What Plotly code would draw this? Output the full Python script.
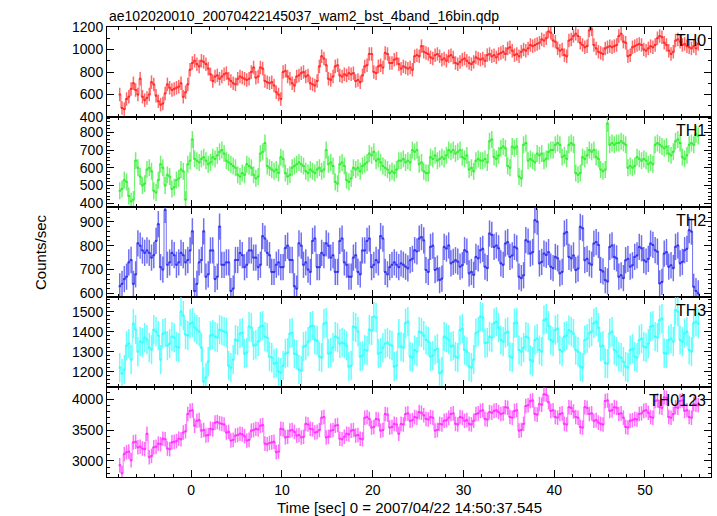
import numpy as np
import plotly.graph_objects as go

# ---------------- data (0.25 s bins, first bin centred at -7.875 s) ----------------
t_start = -7.875
bin_width = 0.25

th0 = [
    600, 480, 470, 560, 580, 650, 700, 640,
    600, 740, 580, 550, 570, 600, 710, 690,
    590, 540, 510, 520, 610, 690, 660, 640,
    650, 660, 670, 700, 580, 620, 690, 820,
    880, 900, 870, 850, 900, 890, 870, 830,
    780, 720, 760, 770, 740, 760, 780, 790,
    740, 720, 700, 690, 740, 760, 750, 740,
    730, 740, 800, 840, 750, 760, 840, 830,
    720, 710, 700, 710, 680, 620, 600, 560,
    800, 810, 760, 740, 700, 680, 760, 770,
    790, 800, 760, 770, 700, 690, 680, 720,
    850, 940, 920, 860, 740, 730, 760, 850,
    860, 770, 760, 780, 770, 790, 780, 790,
    720, 730, 710, 770, 850, 860, 960, 960,
    800, 790, 850, 860, 840, 970, 960, 880,
    880, 910, 920, 870, 830, 850, 840, 830,
    840, 820, 940, 950, 940, 1030, 980, 970,
    960, 930, 920, 950, 960, 940, 910, 920,
    900, 940, 950, 930, 880, 870, 890, 910,
    920, 900, 880, 870, 890, 930, 920, 910,
    920, 900, 950, 960, 940, 950, 930, 960,
    970, 980, 960, 1010, 1020, 990, 950, 960,
    940, 980, 1000, 990, 1010, 1040, 1030, 1040,
    1050, 1060, 1090, 1080, 1100, 1160, 1150, 1080,
    1070, 1010, 990, 1000, 950, 940, 1080, 1090,
    1120, 1140, 1120, 1060, 1040, 1020, 1030, 1170,
    1180, 1040, 1010, 980, 970, 960, 1010, 1020,
    1030, 1020, 1030, 1040, 1120, 1140, 1070, 1060,
    940, 950, 1020, 1030, 1040, 1050, 1040, 1000,
    990, 1010, 1030, 1020, 1040, 1100, 1120, 1110,
    1060, 1040, 990, 960, 980, 1080, 1090, 1070,
    1040, 1050, 1030, 1020, 1010, 1030, 1010, 1050,
]

th1 = [
    470, 480, 530, 520, 440, 410, 420, 640,
    600, 550, 500, 510, 590, 600, 580, 470,
    460, 530, 620, 600, 500, 560, 550, 480,
    490, 530, 540, 590, 580, 420, 620, 640,
    760, 650, 640, 630, 650, 660, 640, 620,
    630, 660, 650, 670, 690, 700, 680, 640,
    630, 620, 610, 600, 560, 550, 570, 560,
    620, 610, 600, 560, 540, 550, 680, 690,
    740, 610, 600, 590, 580, 590, 570, 660,
    650, 570, 550, 560, 600, 610, 620, 630,
    620, 610, 580, 570, 590, 580, 570, 590,
    600, 580, 590, 700, 620, 630, 610, 520,
    510, 620, 630, 610, 530, 520, 540, 600,
    590, 600, 580, 610, 620, 630, 680, 670,
    690, 640, 650, 630, 610, 600, 590, 570,
    580, 570, 590, 640, 640, 650, 630, 640,
    630, 700, 690, 700, 620, 630, 580, 570,
    570, 660, 650, 670, 640, 650, 660, 650,
    670, 700, 690, 700, 680, 690, 700, 660,
    650, 670, 590, 600, 580, 640, 650, 640,
    640, 650, 630, 750, 760, 660, 650, 670,
    710, 720, 710, 610, 600, 720, 710, 720,
    550, 540, 730, 740, 640, 650, 640, 630,
    680, 670, 680, 640, 650, 690, 700, 700,
    730, 740, 730, 660, 670, 650, 730, 740,
    730, 570, 560, 570, 660, 650, 670, 700,
    690, 700, 660, 650, 590, 580, 590, 850,
    730, 740, 730, 740, 740, 750, 740, 730,
    600, 610, 600, 610, 660, 650, 640, 650,
    640, 620, 630, 620, 730, 740, 730, 720,
    710, 720, 680, 670, 690, 750, 760, 740,
    660, 650, 670, 730, 740, 730, 790, 780,
]

th2 = [
    630, 640, 660, 670, 730, 740, 640, 680,
    810, 800, 780, 770, 780, 770, 750, 760,
    820, 890, 710, 700, 950, 720, 730, 770,
    760, 720, 730, 770, 760, 730, 740, 780,
    860, 610, 640, 730, 740, 860, 670, 680,
    780, 780, 660, 670, 880, 720, 720, 730,
    730, 610, 620, 740, 740, 770, 760, 710,
    720, 780, 780, 750, 750, 710, 720, 840,
    830, 770, 760, 690, 690, 720, 730, 710,
    710, 790, 800, 740, 740, 630, 620, 810,
    800, 720, 730, 700, 690, 820, 830, 710,
    710, 770, 760, 810, 800, 750, 760, 690,
    690, 820, 830, 730, 720, 670, 670, 750,
    760, 690, 680, 780, 780, 820, 830, 710,
    720, 740, 730, 840, 830, 690, 680, 710,
    720, 730, 720, 710,
    726, 720, 712, 705, 739, 745, 781, 776, 830, 836, 822,
    698, 690, 795, 800, 698, 704, 656, 662, 795, 788, 801,
    726, 732, 739, 733, 712, 718, 781, 775, 684, 690, 678,
    753, 747, 781, 787, 712, 706, 851, 845, 795, 801, 789,
    726, 720, 809, 815, 753, 759, 795, 789, 670, 664, 676,
    823, 817, 767, 773, 907, 901, 726, 732, 767, 761, 773,
    712, 706, 753, 747, 684, 690, 851, 857, 753, 747, 759,
    698, 704, 879, 873, 739, 745, 726, 720, 809, 815, 803,
    698, 692, 656, 650, 795, 801, 753, 747, 670, 676, 664,
    739, 745, 712, 718, 753, 759, 795, 789, 739, 733, 745,
    809, 803, 781, 775, 642, 648, 767, 773, 712, 718, 706,
    795, 801, 726, 732, 781, 787, 865, 859, 628, 610, 600,
]

th3 = [
    1220, 1190, 1210, 1330, 1340, 1260, 1440, 1410, 1300,
    1350, 1345, 1370, 1360, 1320, 1310, 1410, 1400, 1380,
    1260, 1390, 1395, 1330, 1340, 1375, 1370, 1325, 1320,
    1500, 1480, 1385, 1380, 1440, 1445, 1420, 1410, 1400, 1320,
    1150, 1170, 1250, 1380, 1385, 1375, 1370, 1410, 1405,
    1400, 1395, 1230, 1220, 1260, 1360, 1355, 1390, 1395, 1290, 1295,
    1425, 1420, 1330, 1335, 1350, 1425, 1430, 1375, 1370,
    1275, 1270, 1240, 1245, 1200, 1195, 1230, 1290, 1295,
    1390, 1395, 1290, 1285,
    1210, 1205, 1325, 1330, 1350, 1425, 1430, 1360, 1355,
    1275, 1270, 1440, 1445, 1290, 1295, 1320, 1375, 1370,
    1340, 1345, 1340, 1330,
    1225, 1230, 1425, 1420, 1400, 1275, 1280, 1310, 1305,
    1410, 1405, 1475, 1470, 1290, 1295, 1320, 1340, 1345,
    1335, 1330, 1225, 1230, 1390,
    1325, 1320, 1442, 1450, 1275, 1270, 1308, 1300, 1400, 1395, 1380,
    1358, 1350, 1275, 1280, 1308, 1315, 1192, 1200, 1375, 1370, 1360,
    1325, 1330, 1275, 1270, 1408, 1415, 1308, 1300, 1225, 1220, 1260,
    1392, 1400, 1475, 1470, 1342, 1345, 1375, 1370, 1442, 1450, 1420,
    1358, 1350, 1392, 1400, 1275, 1270, 1442, 1445, 1308, 1300, 1320,
    1375, 1370, 1258, 1250, 1358, 1365, 1308, 1300, 1458, 1465, 1430,
    1358, 1350, 1408, 1415, 1308, 1300, 1375, 1380, 1408, 1400, 1390,
    1308, 1300, 1225, 1220, 1358, 1365, 1392, 1400, 1442, 1450, 1420,
    1325, 1330, 1242, 1240, 1392, 1400, 1308, 1300, 1275, 1270, 1250,
    1225, 1220, 1308, 1315, 1275, 1270, 1358, 1365, 1325, 1320, 1340,
    1425, 1430, 1375, 1370, 1458, 1465, 1292, 1290, 1358, 1365, 1350,
    1508, 1500, 1358, 1350, 1392, 1400, 1308, 1300, 1442, 1450, 1440,
]

th0123 = [
    2930, 2800, 3110, 3140, 3150, 3010, 3300, 3310, 3220, 3230,
    3200, 3190, 3440, 3060, 3080,
    3220, 3230, 3280, 3270, 3360, 3350, 3200, 3190, 3300, 3310, 3320,
    3360, 3350, 3460, 3480, 3760, 3810, 3820, 3570,
    3650, 3660, 3490, 3500, 3410, 3420, 3520, 3510, 3620, 3630, 3610,
    3600, 3590, 3460, 3470, 3330, 3340, 3410, 3420, 3440, 3430, 3400,
    3330, 3340, 3490, 3500, 3520, 3510, 3570, 3580, 3280, 3270, 3290,
    3300, 3310, 3140, 3150, 3520, 3510, 3380, 3390, 3490, 3500, 3470,
    3410, 3420, 3380, 3390, 3600, 3590, 3520, 3510, 3460, 3470, 3500,
    3700, 3710, 3380, 3390, 3490, 3500, 3570, 3580, 3360, 3350, 3390,
    3440, 3430, 3490, 3500, 3410, 3420, 3360, 3350, 3700, 3710, 3680,
    3540, 3550, 3680, 3670, 3490, 3500, 3760, 3750, 3540, 3550,
    3600, 3590, 3440,
    3600, 3590, 3760, 3770, 3650, 3660, 3710, 3700, 3790, 3780, 3740,
    3680, 3670, 3710, 3700, 3490, 3500, 3600, 3590, 3650, 3660, 3700,
    3760, 3770, 3600, 3590, 3710, 3700, 3650, 3660, 3600, 3590, 3650,
    3760, 3770, 3810, 3820, 3680, 3670, 3790, 3780, 3810, 3820, 3790,
    3760, 3770, 3870, 3860, 3710, 3700, 3810, 3820, 3490, 3500, 3600,
    3890, 3900, 3970, 3980, 3760, 3750, 3920, 3910, 4080, 4070, 3950,
    3810, 3820, 3710, 3700, 3760, 3770, 3600, 3590, 3870, 3860, 3800,
    3710, 3700, 3550, 3540, 3870, 3860, 3760, 3770, 3650, 3660, 3620,
    3600, 3590, 3970, 3980, 3810, 3820, 3870, 3860, 3760, 3770, 3700,
    3550, 3540, 3650, 3660, 3680, 3670, 3760, 3770, 3810, 3820, 3780,
    3710, 3700, 3970, 3980, 3870, 3860, 4030, 4020, 3710, 3700, 3760,
    3870, 3860, 3970, 3980, 3810, 3820, 3710, 3700, 3920, 3910, 3900,
]

band_names = ["TH0", "TH1", "TH2", "TH3", "TH0123"]
band_values = [th0, th1, th2, th3, th0123]
band_errors = [60, 48, 55, 73, 118]
band_colors = ["#ff2a2a", "#33ee33", "#3333ee", "#33ffff", "#ff33ff"]
band_colors_light = ["rgba(255,42,42,0.7)", "rgba(51,238,51,0.7)", "rgba(51,51,238,0.7)",
                     "rgba(51,255,255,0.75)", "rgba(255,51,255,0.7)"]
y_ranges = [[400, 1200], [378, 887], [585, 962], [1123, 1573], [2739, 4197]]
y_dticks = [200, 100, 100, 100, 500]
y_minor = [100, 20, 20, 20, 100]

x_range = [-9.28, 57.28]
title_text = "ae102020010_20070422145037_wam2_bst_4band_16bin.qdp"
x_title = "Time [sec] 0 = 2007/04/22 14:50:37.545"
y_title = "Counts/sec"

# ---------------- figure ----------------
FONT = "Liberation Sans, Arial, Helvetica, sans-serif"
fig = go.Figure()
n_panels = len(band_names)

for i, (name, vals, err) in enumerate(zip(band_names, band_values, band_errors)):
    col = band_colors[i]
    n = len(vals)
    t = t_start + bin_width * np.arange(n)
    suffix = "" if i == 0 else str(i + 1)
    # thin connecting step line (bin-to-bin)
    fig.add_trace(go.Scatter(
        x=t, y=vals, mode="lines", line=dict(shape="hvh", width=1, color=band_colors_light[i]),
        xaxis="x" + suffix, yaxis="y" + suffix, showlegend=False, hoverinfo="skip",
    ))
    fig.add_trace(go.Scatter(
        x=t, y=vals, mode="markers",
        marker=dict(size=0.1, color=col),
        error_y=dict(type="constant", value=err, thickness=1.5, width=0, color=band_colors_light[i]),
        error_x=dict(type="constant", value=bin_width / 2, thickness=2, width=0, color=col),
        xaxis="x" + suffix, yaxis="y" + suffix, showlegend=False, hoverinfo="skip",
    ))
    top = round(1 - i / n_panels, 6)
    bottom = max(0.0, round(1 - (i + 1) / n_panels, 6))
    axis_common = dict(
        showline=True, linecolor="black", linewidth=1, mirror="allticks",
        ticks="inside", tickcolor="black", ticklen=7, tickwidth=1,
        showgrid=False, zeroline=False,
        tickfont=dict(family=FONT, size=14, color="black"),
    )
    xa = dict(
        axis_common, domain=[0, 1], range=x_range, anchor="y" + suffix,
        dtick=10, tick0=0, showticklabels=(i == n_panels - 1),
        minor=dict(dtick=2, ticklen=3, ticks="inside", tickcolor="black"),
    )
    if i > 0:
        xa["matches"] = "x"
    fig.layout["xaxis" + suffix] = xa
    fig.layout["yaxis" + suffix] = dict(
        axis_common, domain=[bottom, top], range=y_ranges[i], anchor="x" + suffix,
        dtick=y_dticks[i], tick0=0,
        minor=dict(dtick=y_minor[i], ticklen=3, ticks="inside", tickcolor="black"),
    )
    fig.add_annotation(
        text=name, xref="paper", yref="paper", x=0.995, y=top, xanchor="right", yanchor="top",
        yshift=-3, showarrow=False, font=dict(family=FONT, size=16, color="black"),
    )

fig.add_annotation(text=title_text, xref="paper", yref="paper", x=0, y=1, xanchor="left",
                   yanchor="bottom", yshift=1, showarrow=False,
                   font=dict(family=FONT, size=14, color="black"))
fig.add_annotation(text=x_title, xref="paper", yref="paper", x=0.5, y=0, xanchor="center",
                   yanchor="top", yshift=-20, showarrow=False,
                   font=dict(family=FONT, size=15, color="black"))
fig.add_annotation(text=y_title, xref="paper", yref="paper", x=0, y=0.5, xanchor="center",
                   yanchor="middle", xshift=-67, textangle=-90, showarrow=False,
                   font=dict(family=FONT, size=15, color="black"))

fig.update_layout(
    width=717, height=516,
    margin=dict(l=107, r=6, t=27, b=39),
    paper_bgcolor="white", plot_bgcolor="white",
    font=dict(family=FONT, color="black"),
)

fig.write_html(
    "out.html",
    config={"displayModeBar": False, "staticPlot": True},
    post_script="document.body.style.margin='0';document.body.style.overflow='hidden';",
)
